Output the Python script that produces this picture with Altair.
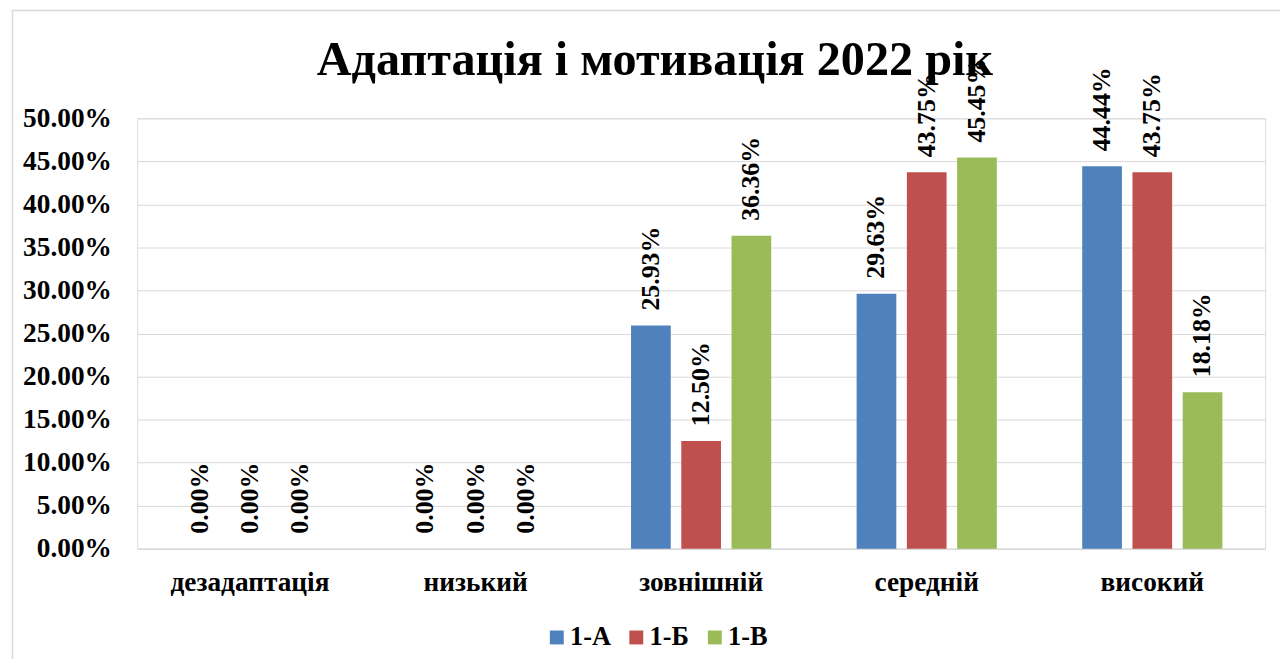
import altair as alt
import pandas as pd

categories = ["дезадаптація", "низький", "зовнішній", "середній", "високий"]
series = ["1-А", "1-Б", "1-В"]
values_1a = [0.0, 0.0, 0.2593, 0.2963, 0.4444]
values_1b = [0.0, 0.0, 0.1250, 0.4375, 0.4375]
values_1v = [0.0, 0.0, 0.3636, 0.4545, 0.1818]
colors = ["#4F81BD", "#C0504D", "#9BBB59"]
y_ticks = [0.0, 0.05, 0.10, 0.15, 0.20, 0.25, 0.30, 0.35, 0.40, 0.45, 0.50]
title_text = "Адаптація і мотивація 2022 рік"

rows = []
for s, vals in zip(series, [values_1a, values_1b, values_1v]):
    for c, v in zip(categories, vals):
        rows.append({"cat": c, "series": s, "value": v})
df = pd.DataFrame(rows)

W, H = 1135, 433
FONT = "Liberation Serif"

x_enc = alt.X("cat:N", sort=categories, title=None,
              scale=alt.Scale(paddingInner=0, paddingOuter=0),
              axis=alt.Axis(labelAngle=0, ticks=False, domain=True, domainColor="#d9d9d9",
                            labelFont=FONT, labelFontWeight="bold", labelFontSize=27.5,
                            labelColor="#000000", labelPadding=20))
xoff = alt.XOffset("series:N", sort=series,
                   scale=alt.Scale(paddingInner=0.21, paddingOuter=0.85))
y_enc = alt.Y("value:Q", title=None,
              scale=alt.Scale(domain=[0, 0.5], nice=False),
              axis=alt.Axis(values=y_ticks, format=".2%", ticks=False, domain=False,
                            gridColor="#d9d9d9", gridWidth=1,
                            labelFont=FONT, labelFontWeight="bold", labelFontSize=27.5,
                            labelColor="#000000", labelPadding=26))

bars = alt.Chart(df).mark_bar().encode(
    x=x_enc, xOffset=xoff, y=y_enc,
    color=alt.Color("series:N", sort=series,
                    scale=alt.Scale(domain=series, range=colors),
                    legend=alt.Legend(title=None, orient="none", direction="horizontal",
                                      legendX=409, legendY=509,
                                      symbolType="square", symbolSize=196,
                                      symbolStrokeWidth=0,
                                      labelFont=FONT, labelFontWeight="bold",
                                      labelFontSize=26.5, labelColor="#000000",
                                      labelOffset=0, columnPadding=12)),
)

labels = alt.Chart(df).mark_text(
    angle=270, align="left", baseline="middle", dx=15,
    font=FONT, fontWeight="bold", fontSize=26, color="#000000",
).encode(
    x=alt.X("cat:N", sort=categories),
    xOffset=alt.XOffset("series:N", sort=series),
    y=alt.Y("value:Q"),
    text=alt.Text("value:Q", format=".2%"),
)

border = alt.Chart(alt.Data(values=[{"a": 1}])).mark_rect(
    fill=None, stroke="#d9d9d9", strokeWidth=1.5
).encode(
    x=alt.value(-125.5), y=alt.value(-108.5),
    x2=alt.value(W + 300), y2=alt.value(H + 300),
)

title = alt.Chart(alt.Data(values=[{"t": title_text}])).mark_text(
    font=FONT, fontWeight="bold", fontSize=48.5, color="#000000",
    align="center", baseline="alphabetic",
).encode(
    x=alt.value(521), y=alt.value(-44), text="t:N",
)

chart = alt.layer(border, bars, labels, title).properties(
    width=W, height=H,
    autosize=alt.AutoSizeParams(type="none"),
    padding={"left": 130, "top": 109, "right": 15, "bottom": 109},
).configure_view(stroke=None).configure(background="white")

chart.save("out.html", embed_options={"renderer": "svg", "actions": False})
